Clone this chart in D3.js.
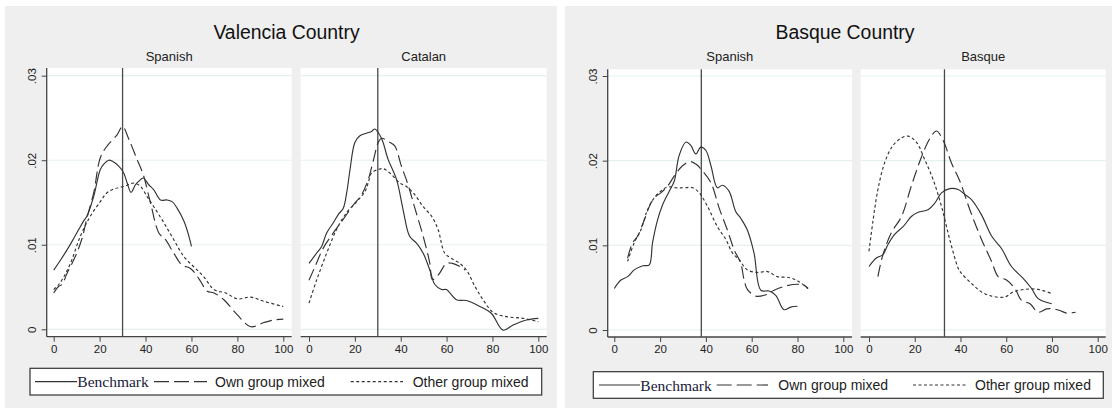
<!DOCTYPE html>
<html>
<head>
<meta charset="utf-8">
<script src="https://cdn.jsdelivr.net/npm/d3@7"></script>
<style>
  html, body { margin: 0; padding: 0; background: #ffffff; }
  svg { display: block; }
</style>
</head>
<body>
<svg id="chart" width="1116" height="410"></svg>
<script>
// ---- Data -------------------------------------------------------------
const xTicks = [0, 20, 40, 60, 80, 100];
const yTicks = [0, 0.01, 0.02, 0.03];
const yTickLabels = ["0", ".01", ".02", ".03"];
const seriesNames = ["Benchmark", "Own group mixed", "Other group mixed"];
const regionTitles = ["Valencia Country", "Basque Country"];
const panelTitles = [["Spanish", "Catalan"], ["Spanish", "Basque"]];
const referenceLines = [[30, 30], [38, 33]];

// Valencia Country, Spanish
const valSpaBenchmark = [[0,.0070],[3,.0082],[5.8,.0094],[8,.0104],[10.9,.0118],[13,.0128],[14.5,.0134],[17.4,.0157],[20.3,.0189],[22,.0196],[24,.0200],[25.4,.0199],[28.3,.0193],[30.5,.0185],[32,.0173],[33.7,.0162],[35.6,.0171],[37,.0175],[39,.0179],[41.4,.0171],[43.6,.0165],[46.5,.0153],[49.4,.0153],[51.6,.0151],[53.8,.0143],[56.7,.0128],[58.9,.0110],[60,.0098]];
const valSpaOwn = [[0,.0043],[2.2,.0051],[3.6,.0053],[5.8,.0066],[9.4,.0086],[12.4,.0108],[14.5,.0132],[17.4,.0161],[20.3,.0203],[23.3,.0217],[27.6,.0230],[30,.0240],[32.7,.0225],[36.3,.0201],[39,.0183],[42.2,.0149],[45.8,.0114],[48.7,.0106],[52.3,.0090],[55.9,.0076],[59.6,.0072],[63.2,.0060],[66.9,.0045],[69.8,.0043],[74.1,.0035],[80,.0017],[85.8,.0003],[91.6,.0008],[95.9,.0011],[100,.0012]];
const valSpaOther = [[0,.0047],[2.2,.0053],[4.4,.0062],[7.3,.0078],[11.6,.0110],[16,.0134],[20.3,.0151],[23,.0161],[26.2,.0166],[30.5,.0169],[34.9,.0173],[37.8,.0169],[40.7,.0157],[43.6,.0145],[48,.0126],[52.3,.0106],[56.7,.0086],[61,.0074],[65.4,.0062],[69.8,.0047],[74.9,.0043],[80,.0036],[85.8,.0038],[91.6,.0033],[100,.0027]];

// Valencia Country, Catalan
const valCatBenchmark = [[0,.0078],[3.3,.0090],[5.5,.0098],[7.7,.0114],[10.6,.0126],[12.8,.0136],[14.9,.0143],[16.4,.0161],[17.9,.0189],[20,.0221],[22.2,.0229],[25.1,.0232],[27.3,.0234],[28.7,.0237],[31.6,.0226],[34.5,.0201],[38.2,.0177],[41,.0142],[43.9,.0110],[46.9,.0102],[49.8,.0090],[52.7,.0070],[54.9,.0053],[57.8,.0047],[59.9,.0047],[64.3,.0035],[68.7,.0034],[74.5,.0027],[79.5,.0019],[84.6,-.0001],[89,.0005],[94.8,.0011],[100,.0013]];
const valCatOwn = [[0,.0058],[2.6,.0074],[6.2,.0096],[10.6,.0114],[14.9,.0130],[19.3,.0147],[22.9,.0159],[25.8,.0177],[28,.0199],[30.2,.0221],[31.6,.0226],[35.3,.0221],[37.4,.0217],[40.3,.0193],[43.2,.0171],[46.2,.0143],[49.8,.0110],[52.7,.0078],[53.8,.0059],[56.3,.0064],[60,.0078],[62.5,.0078],[65.9,.0074],[68.1,.0070]];
const valCatOther = [[0,.0031],[3.3,.0058],[7.7,.0090],[12,.0118],[16.4,.0138],[20.8,.0151],[24.4,.0163],[25.8,.0173],[27.3,.0185],[30.2,.0189],[32.4,.0190],[36,.0183],[39.6,.0173],[42.5,.0169],[46.2,.0159],[49.8,.0145],[53.4,.0134],[56.3,.0118],[59.2,.0090],[62.1,.0084],[65.7,.0078],[68.7,.0070],[72.3,.0051],[75.9,.0035],[80.3,.0020],[86,.0015],[93.3,.0013],[100,.0009]];

// Basque Country, Spanish
const basSpaBenchmark = [[0,.0049],[2.9,.0059],[5.8,.0063],[8.7,.0071],[11.6,.0075],[13.1,.0076],[15.3,.0077],[16.7,.0103],[18.9,.0130],[21.1,.0148],[24,.0164],[26.2,.0176],[28.3,.0206],[31.3,.0222],[33.4,.0218],[35.6,.0208],[37.8,.0216],[40,.0212],[42.2,.0194],[45,.0168],[47.2,.0171],[50.1,.0164],[53,.0140],[55.2,.0132],[58.1,.0118],[61,.0091],[64,.0047],[67.6,.0046],[70.5,.0041],[74.1,.0024],[77,.0027],[80,.0028]];
const basSpaOwn = [[5.8,.0085],[8,.0103],[10.2,.0111],[13.1,.0130],[16,.0150],[18.2,.0158],[20.3,.0162],[23.3,.0170],[26.2,.0182],[29.8,.0194],[33.1,.0199],[35.6,.0196],[38.5,.0188],[42.2,.0174],[45.8,.0144],[49.4,.0118],[52.3,.0095],[55.2,.0079],[56.7,.0059],[58.1,.0048],[61.8,.0040],[65.4,.0041],[69.8,.0047],[74.9,.0052],[80,.0054],[82.8,.0053],[84.6,.0049]];
const basSpaOther = [[5.8,.0081],[8.7,.0103],[11.6,.0118],[14.5,.0142],[17.4,.0156],[20.3,.0164],[23.3,.0169],[26.9,.0168],[30.5,.0168],[34.2,.0168],[37.1,.0162],[40.7,.0146],[45,.0122],[48.7,.0107],[51.6,.0091],[54.5,.0083],[58.1,.0071],[62.5,.0068],[66.9,.0069],[71.2,.0063],[76.3,.0062],[80.7,.0057],[84.6,.0049]];

// Basque Country, Basque
const basBasBenchmark = [[0,.0075],[3.2,.0085],[6.1,.0089],[8.3,.0101],[11.2,.0113],[14.9,.0122],[18.5,.0134],[21.5,.0139],[25.8,.0142],[28.8,.0150],[31.7,.0162],[35.3,.0167],[39,.0166],[41.9,.0160],[44.8,.0154],[49.2,.0136],[53.6,.0111],[58,.0096],[62.3,.0075],[67.4,.0061],[71.1,.0049],[74,.0037],[79.9,.0031]];
const basBasOwn = [[3.9,.0063],[6.1,.0089],[9.8,.0115],[14.2,.0134],[18.5,.0170],[22.9,.0204],[26.6,.0226],[29.5,.0235],[32.4,.0224],[36.1,.0197],[39.7,.0176],[44.1,.0142],[49.2,.0107],[53.6,.0081],[56.5,.0063],[60.1,.0059],[63.8,.0049],[66.7,.0035],[70.4,.0031],[74,.0021],[77.7,.0025],[80.6,.0025],[83.5,.0023],[86.4,.0020],[90.4,.0021]];
const basBasOther = [[0,.0093],[1.8,.0130],[3.9,.0166],[6.9,.0198],[10.5,.0218],[14.2,.0227],[17.1,.0229],[20.7,.0222],[24.4,.0201],[28,.0178],[31.7,.0146],[35.3,.0107],[39,.0073],[40.4,.0067],[44.8,.0055],[49.2,.0045],[53.6,.0040],[59.4,.0039],[63.1,.0045],[68.2,.0048],[74,.0048],[79.9,.0043]];

const panelSeries = [
  [[valSpaBenchmark, valSpaOwn, valSpaOther], [valCatBenchmark, valCatOwn, valCatOther]],
  [[basSpaBenchmark, basSpaOwn, basSpaOther], [basBasBenchmark, basBasOwn, basBasOther]]
];

// ---- Layout -----------------------------------------------------------
const figures = [
  { bg: [5, 6, 552, 402], titleX: 286.5, plotTop: 68, plotBottom: 336.7, yZero: 329.3, yTop: 75.7,
    panels: [{ left: 46.7, right: 291.7, x0: 53.7, x1: 283.3 }, { left: 300.7, right: 546.7, x0: 309, x1: 538.3 }],
    legend: { x: 30, y: 368.3, w: 511.7, h: 26.7 },
    keys: [[35, 77, 77.3], [154, 207, 215], [350.7, 403, 412.7]] },
  { bg: [565, 6, 547, 402], titleX: 845, plotTop: 69.3, plotBottom: 337, yZero: 330, yTop: 76,
    panels: [{ left: 607.7, right: 852, x0: 614.3, x1: 843.3 }, { left: 860.7, right: 1105.7, x0: 869, x1: 1097.7 }],
    legend: { x: 593.3, y: 371.7, w: 510, h: 26.6 },
    keys: [[599, 640, 640.3], [716.7, 768, 778.3], [913, 966, 975]] }
];

const ink = "#333333";
const dashes = [null, "12,5", "3,2.5"];
const sans = "'Liberation Sans', Arial, Helvetica, sans-serif";
const serif = "'Liberation Serif', 'Times New Roman', serif";

const svg = d3.select("#chart");

figures.forEach((fig, fi) => {
  const g = svg.append("g");

  g.append("rect")
    .attr("x", fig.bg[0]).attr("y", fig.bg[1])
    .attr("width", fig.bg[2]).attr("height", fig.bg[3])
    .attr("fill", "#efefef");

  g.append("text")
    .attr("x", fig.titleX).attr("y", 38.5)
    .attr("text-anchor", "middle")
    .attr("font-family", sans).attr("font-size", 19.4)
    .attr("fill", "#111")
    .text(regionTitles[fi]);

  const y = d3.scaleLinear().domain([0, 0.03]).range([fig.yZero, fig.yTop]);

  fig.panels.forEach((p, pi) => {
    const x = d3.scaleLinear().domain([0, 100]).range([p.x0, p.x1]);
    const pg = g.append("g");

    // white plot region
    pg.append("rect")
      .attr("x", p.left).attr("y", fig.plotTop)
      .attr("width", p.right - p.left).attr("height", fig.plotBottom - fig.plotTop)
      .attr("fill", "#ffffff");

    // panel heading
    pg.append("text")
      .attr("x", (p.left + p.right) / 2).attr("y", 61)
      .attr("text-anchor", "middle")
      .attr("font-family", sans).attr("font-size", 13)
      .attr("fill", "#222")
      .text(panelTitles[fi][pi]);

    // horizontal grid
    pg.selectAll("line.grid").data(yTicks).enter().append("line")
      .attr("class", "grid")
      .attr("x1", p.left).attr("x2", p.right)
      .attr("y1", d => y(d)).attr("y2", d => y(d))
      .attr("stroke", "#e6f0f0").attr("stroke-width", 1.2);

    // x axis
    const xAxis = d3.axisBottom(x).tickValues(xTicks).tickSize(5).tickPadding(3).tickFormat(d3.format("d"));
    const xa = pg.append("g").attr("transform", `translate(0,${fig.plotBottom})`).call(xAxis);
    xa.select(".domain").remove();
    xa.append("line")
      .attr("x1", p.left).attr("x2", p.right).attr("y1", 0).attr("y2", 0)
      .attr("stroke", "#444").attr("stroke-width", 1.3);
    xa.selectAll(".tick line").attr("stroke", "#444").attr("stroke-width", 1);
    xa.selectAll(".tick text")
      .attr("font-family", sans).attr("font-size", 11.5).attr("fill", "#222");

    // y axis on the first panel of each figure
    if (pi === 0) {
      const yAxis = d3.axisLeft(y).tickValues(yTicks).tickSize(5).tickFormat((d, i) => yTickLabels[i]);
      const ya = pg.append("g").attr("transform", `translate(${p.left},0)`).call(yAxis);
      ya.select(".domain").remove();
      ya.append("line")
        .attr("x1", 0).attr("x2", 0).attr("y1", fig.plotTop).attr("y2", fig.plotBottom)
        .attr("stroke", "#444").attr("stroke-width", 1.3);
      ya.selectAll(".tick line").attr("stroke", "#444").attr("stroke-width", 1);
      ya.selectAll(".tick text")
        .attr("font-family", sans).attr("font-size", 11.5).attr("fill", "#222")
        .attr("text-anchor", "middle")
        .attr("x", null).attr("dy", null)
        .attr("transform", "translate(-15,0) rotate(-90)")
        .attr("y", 0)
        .attr("dominant-baseline", "central");
    }

    // reference line
    pg.append("line")
      .attr("x1", x(referenceLines[fi][pi])).attr("x2", x(referenceLines[fi][pi]))
      .attr("y1", fig.plotTop).attr("y2", fig.plotBottom)
      .attr("stroke", "#4a4a4a").attr("stroke-width", 1.3);

    // density curves
    const line = d3.line()
      .x(d => x(d[0])).y(d => y(d[1]))
      .curve(d3.curveCatmullRom.alpha(0.5));
    panelSeries[fi][pi].forEach((s, si) => {
      pg.append("path")
        .datum(s)
        .attr("d", line)
        .attr("fill", "none")
        .attr("stroke", ink)
        .attr("stroke-width", 1.15)
        .attr("stroke-dasharray", dashes[si]);
    });
  });

  // legend
  const L = fig.legend;
  const lg = g.append("g");
  lg.append("rect")
    .attr("x", L.x).attr("y", L.y).attr("width", L.w).attr("height", L.h)
    .attr("fill", "#ffffff").attr("stroke", "#333").attr("stroke-width", 1.2);
  const cy = L.y + L.h / 2;
  seriesNames.forEach((name, si) => {
    const k = fig.keys[si];
    lg.append("line")
      .attr("x1", k[0]).attr("x2", k[1]).attr("y1", cy).attr("y2", cy)
      .attr("stroke", ink).attr("stroke-width", 1.15)
      .attr("stroke-dasharray", si === 1 ? "15,5" : dashes[si]);
    lg.append("text")
      .attr("x", k[2]).attr("y", cy)
      .attr("dominant-baseline", "central")
      .attr("font-family", si === 0 ? serif : sans)
      .attr("font-size", si === 0 ? 15.5 : 14)
      .attr("fill", si === 0 ? "#1a1a3a" : "#222")
      .text(name);
  });
});
</script>
</body>
</html>
